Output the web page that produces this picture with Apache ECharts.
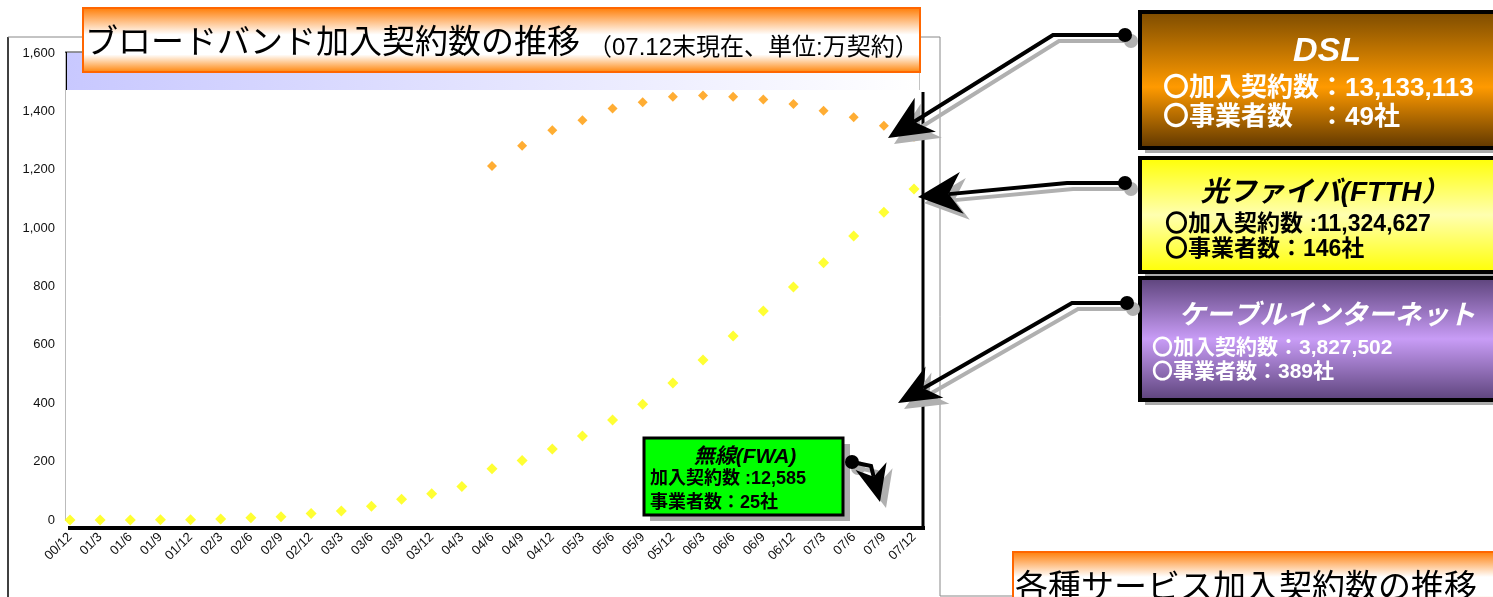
<!DOCTYPE html>
<html>
<head>
<meta charset="utf-8">
<title>ブロードバンド加入契約数の推移</title>
<script src="https://cdn.jsdelivr.net/npm/echarts@6/dist/echarts.min.js"></script>
<style>
  html, body { margin: 0; padding: 0; background: #fff; }
  #chart { width: 1493px; height: 597px; }
</style>
</head>
<body>
<div id="chart"></div>
<script>
// 四半期末 (00/12 〜 07/12)
var categories = ['00/12', '01/3', '01/6', '01/9', '01/12', '02/3', '02/6', '02/9', '02/12',
  '03/3', '03/6', '03/9', '03/12', '04/3', '04/6', '04/9', '04/12', '05/3', '05/6', '05/9',
  '05/12', '06/3', '06/6', '06/9', '06/12', '07/3', '07/6', '07/9', '07/12'];

// 万契約
var dslData = [null, null, null, null, null, null, null, null, null, null, null, null, null, null,
  1213, 1282, 1335, 1370, 1410, 1431, 1450, 1454, 1450, 1441, 1425, 1402, 1380, 1351, 1313];
var ftthData = [0, 0, 0, 1, 1, 3, 8, 11, 22, 31, 47, 71, 90, 115, 176, 204, 243, 288, 343, 397,
  469, 548, 630, 716, 798, 881, 973, 1054, 1134];

var yMin = 0, yMax = 1600, yStep = 200;

var JP = '"Liberation Sans", "Noto Sans CJK JP", sans-serif';

var chart = echarts.init(document.getElementById('chart'));

// 矢印 (影付き)
function arrow(pts, color, off, L, W) {
  var n = pts.length;
  var T = pts[n - 1], P = pts[n - 2];
  var dx = T[0] - P[0], dy = T[1] - P[1];
  var len = Math.sqrt(dx * dx + dy * dy);
  var ux = dx / len, uy = dy / len, nx = -uy, ny = ux;
  var N = L * 0.3;
  var base = [T[0] - ux * (L - N), T[1] - uy * (L - N)];
  var mv = function (p) { return [p[0] + off, p[1] + off]; };
  var line = pts.slice(0, n - 1).concat([base]).map(mv);
  var head = [T, [T[0] - ux * L + nx * W, T[1] - uy * L + ny * W], base,
    [T[0] - ux * L - nx * W, T[1] - uy * L - ny * W]].map(mv);
  return [
    { type: 'polyline', z: 20, shape: { points: line }, style: { stroke: color, lineWidth: 4, fill: null } },
    { type: 'polygon', z: 20, shape: { points: head }, style: { fill: color } },
    { type: 'circle', z: 20, shape: { cx: pts[0][0] + off, cy: pts[0][1] + off, r: 7 }, style: { fill: color } }
  ];
}

function arrowWithShadow(pts, L, W) {
  return arrow(pts, '#b0b0b0', 6, L, W).concat(arrow(pts, '#000', 0, L, W));
}

function txt(x, y, text, font, fill, align, shadow) {
  var s = { text: text, font: font, fill: fill, align: align || 'left', verticalAlign: 'middle' };
  if (shadow) {
    s.textShadowColor = shadow;
    s.textShadowOffsetX = 2;
    s.textShadowOffsetY = 2;
  }
  return { type: 'text', x: x, y: y, z: 30, style: s };
}

function vgrad(stops) {
  return new echarts.graphic.LinearGradient(0, 0, 0, 1, stops.map(function (c) {
    return { offset: c[0], color: c[1] };
  }));
}

var orangeBar = vgrad([[0, '#ff7a00'], [0.42, '#ffffff'], [0.72, '#ffffff'], [1, '#ff8000']]);

var elements = [
  // 外枠
  { type: 'line', shape: { x1: 8, y1: 37, x2: 8, y2: 597 }, style: { stroke: '#000', lineWidth: 1.5 } },
  { type: 'line', shape: { x1: 8, y1: 37, x2: 940, y2: 37 }, style: { stroke: '#888', lineWidth: 1 } },
  { type: 'line', shape: { x1: 940, y1: 37, x2: 940, y2: 596 }, style: { stroke: '#888', lineWidth: 1 } },
  { type: 'line', shape: { x1: 940, y1: 596, x2: 1013, y2: 596 }, style: { stroke: '#888', lineWidth: 1 } },
  { type: 'line', shape: { x1: 919, y1: 37, x2: 919, y2: 90 }, style: { stroke: '#888', lineWidth: 1 } },
  // 上部の帯
  { type: 'rect', shape: { x: 65, y: 52, width: 854, height: 38 },
    style: { fill: new echarts.graphic.LinearGradient(0, 0, 1, 0, [{ offset: 0, color: '#c8c8ff' }, { offset: 1, color: '#ffffff' }]) } },
  { type: 'line', shape: { x1: 65, y1: 52, x2: 90, y2: 52 }, style: { stroke: '#777', lineWidth: 1.5 } },
  { type: 'line', shape: { x1: 66, y1: 52, x2: 66, y2: 90 }, style: { stroke: '#000', lineWidth: 2 } },
  // プロットエリアの枠
  { type: 'line', z: 5, shape: { x1: 923, y1: 92, x2: 923, y2: 530 }, style: { stroke: '#000', lineWidth: 3 } },
  { type: 'line', z: 5, shape: { x1: 68, y1: 528, x2: 925, y2: 528 }, style: { stroke: '#000', lineWidth: 4 } },
  // タイトル
  { type: 'rect', z: 10, shape: { x: 83, y: 8, width: 837, height: 64 }, style: { fill: orangeBar, stroke: '#ff6600', lineWidth: 2 } },
  txt(85, 44, 'ブロードバンド加入契約数の推移', '33px ' + JP, '#000', 'left', 'rgba(0,0,0,0.3)'),
  txt(588, 48, '（07.12末現在、単位:万契約）', '24px ' + JP, '#000', 'left', 'rgba(0,0,0,0.3)'),
  // 右下タイトル
  { type: 'rect', z: 10, shape: { x: 1013, y: 552, width: 500, height: 60 }, style: { fill: orangeBar, stroke: '#ff6600', lineWidth: 2 } },
  txt(1015, 589, '各種サービス加入契約数の推移', '33px ' + JP, '#000', 'left', 'rgba(0,0,0,0.3)'),

  // DSL
  { type: 'rect', z: 9, shape: { x: 1145, y: 17, width: 400, height: 136 }, style: { fill: '#aaa' } },
  { type: 'rect', z: 10, shape: { x: 1140, y: 12, width: 400, height: 136 },
    style: { fill: vgrad([[0, '#7a4a00'], [0.55, '#ff9a00'], [1, '#5a3400']]), stroke: '#000', lineWidth: 4 } },
  txt(1327, 52, 'DSL', 'italic bold 34px "Liberation Sans", sans-serif', '#fff', 'center', '#000'),
  txt(1163, 89, '〇加入契約数：13,133,113', 'bold 26px ' + JP, '#fff', 'left', 'rgba(0,0,0,0.5)'),
  txt(1163, 118, '〇事業者数　：49社', 'bold 26px ' + JP, '#fff', 'left', 'rgba(0,0,0,0.5)'),

  // 光ファイバ
  { type: 'rect', z: 9, shape: { x: 1145, y: 163, width: 400, height: 114 }, style: { fill: '#aaa' } },
  { type: 'rect', z: 10, shape: { x: 1140, y: 158, width: 400, height: 114 },
    style: { fill: vgrad([[0, '#ffff00'], [0.5, '#ffffb0'], [1, '#ffff00']]), stroke: '#000', lineWidth: 4 } },
  txt(1325, 193, '光ファイバ(FTTH）', 'italic bold 28px ' + JP, '#000', 'center', 'rgba(0,0,0,0.3)'),
  txt(1165, 225, '〇加入契約数 :11,324,627', 'bold 23px ' + JP, '#000', 'left', 'rgba(0,0,0,0.25)'),
  txt(1165, 250, '〇事業者数：146社', 'bold 23px ' + JP, '#000', 'left', 'rgba(0,0,0,0.25)'),

  // ケーブル
  { type: 'rect', z: 9, shape: { x: 1145, y: 283, width: 400, height: 122 }, style: { fill: '#aaa' } },
  { type: 'rect', z: 10, shape: { x: 1140, y: 278, width: 400, height: 122 },
    style: { fill: vgrad([[0, '#5a4178'], [0.5, '#c89cf6'], [1, '#5a4178']]), stroke: '#000', lineWidth: 4 } },
  txt(1327, 317, 'ケーブルインターネット', 'italic bold 27px ' + JP, '#fff', 'center', '#000'),
  txt(1152, 348, '〇加入契約数：3,827,502', 'bold 21px ' + JP, '#fff', 'left'),
  txt(1152, 372, '〇事業者数：389社', 'bold 21px ' + JP, '#fff', 'left'),

  // 無線
  { type: 'rect', z: 9, shape: { x: 650, y: 444, width: 200, height: 77 }, style: { fill: '#aaa' } },
  { type: 'rect', z: 10, shape: { x: 644, y: 438, width: 199, height: 77 }, style: { fill: '#00ff00', stroke: '#000', lineWidth: 3 } },
  txt(745, 457, '無線(FWA)', 'italic bold 21px ' + JP, '#000', 'center', 'rgba(0,0,0,0.3)'),
  txt(650, 479, '加入契約数 :12,585', 'bold 18px ' + JP, '#000', 'left'),
  txt(650, 503, '事業者数：25社', 'bold 18px ' + JP, '#000', 'left')
];

elements = elements
  .concat(arrowWithShadow([[1125, 35], [1053, 35], [888, 138]], 44, 20))
  .concat(arrowWithShadow([[1125, 183], [1067, 183], [918, 197]], 44, 21))
  .concat(arrowWithShadow([[1127, 303], [1072, 303], [898, 403]], 42, 18))
  .concat(arrowWithShadow([[852, 462], [871, 466], [880, 502]], 37, 16));

chart.setOption({
  animation: false,
  backgroundColor: '#fff',
  grid: { left: 70, right: 579, top: 53, bottom: 77, containLabel: false },
  xAxis: {
    type: 'category',
    data: categories,
    boundaryGap: false,
    axisLine: { show: false },
    axisTick: { show: false },
    splitLine: { show: false },
    axisLabel: {
      interval: 0,
      rotate: 45,
      margin: 15,
      fontSize: 13,
      fontFamily: '"Liberation Sans", Arial, sans-serif',
      color: '#111'
    }
  },
  yAxis: {
    type: 'value',
    min: yMin,
    max: yMax,
    interval: yStep,
    offset: 5,
    axisLine: { show: true, lineStyle: { color: '#bbb', width: 1 } },
    axisTick: { show: false },
    splitLine: { show: false },
    axisLabel: {
      margin: 10,
      fontSize: 13,
      fontFamily: '"Liberation Sans", Arial, sans-serif',
      color: '#111',
      formatter: function (v) { return v.toLocaleString('en-US'); }
    }
  },
  series: [
    {
      name: 'DSL',
      type: 'scatter',
      data: dslData,
      symbol: 'diamond',
      symbolSize: 10,
      itemStyle: { color: '#ff9900' }
    },
    {
      name: 'FTTH',
      type: 'scatter',
      data: ftthData,
      symbol: 'diamond',
      symbolSize: 11,
      itemStyle: { color: '#ffff00' }
    }
  ],
  graphic: { elements: elements }
});
</script>
</body>
</html>
